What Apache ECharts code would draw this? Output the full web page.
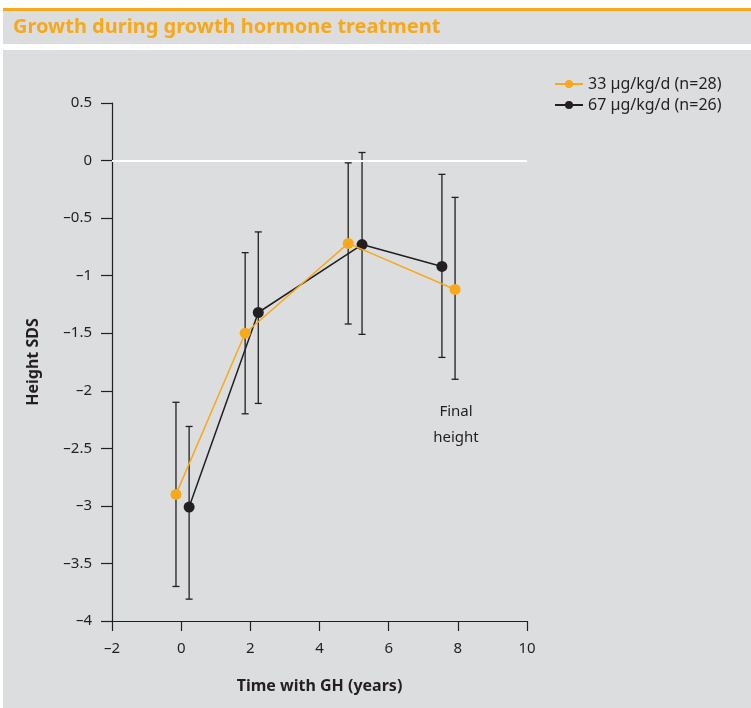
<!DOCTYPE html>
<html>
<head>
<meta charset="utf-8">
<script src="https://cdn.jsdelivr.net/npm/echarts@6/dist/echarts.min.js"></script>
<style>
  html, body { margin: 0; padding: 0; background: #ffffff; }
  #chart { width: 751px; height: 708px; }
</style>
</head>
<body>
<div id="chart"></div>
<script>
// 数据
var seriesNames = ['33 µg/kg/d (n=28)', '67 µg/kg/d (n=26)'];
var lowDoseX = [-0.15, 1.85, 4.83, 7.92];
var lowDoseMean = [-2.9, -1.5, -0.72, -1.12];
var lowDoseLow = [-3.7, -2.2, -1.42, -1.9];
var lowDoseHigh = [-2.1, -0.8, -0.02, -0.32];
var highDoseX = [0.23, 2.23, 5.23, 7.54];
var highDoseMean = [-3.01, -1.32, -0.73, -0.92];
var highDoseLow = [-3.81, -2.11, -1.51, -1.71];
var highDoseHigh = [-2.31, -0.62, 0.07, -0.12];

var orange = '#f7a81b';
var dark = '#231f20';
var panelGray = '#dcdddf';

var myChart = echarts.init(document.getElementById('chart'));

function pairs(xs, ys) {
    var out = [];
    for (var i = 0; i < xs.length; i++) out.push([xs[i], ys[i]]);
    return out;
}
function triples(xs, lo, hi) {
    var out = [];
    for (var i = 0; i < xs.length; i++) out.push([xs[i], lo[i], hi[i]]);
    return out;
}

// 误差线
function renderErrorBar(params, api) {
    var x = api.value(0);
    var top = api.coord([x, api.value(2)]);
    var bottom = api.coord([x, api.value(1)]);
    var half = 3.5;
    var style = { stroke: dark, lineWidth: 1.3 };
    return {
        type: 'group',
        children: [
            { type: 'line', shape: { x1: top[0], y1: top[1], x2: bottom[0], y2: bottom[1] }, style: style },
            { type: 'line', shape: { x1: top[0] - half, y1: top[1], x2: top[0] + half, y2: top[1] }, style: style },
            { type: 'line', shape: { x1: bottom[0] - half, y1: bottom[1], x2: bottom[0] + half, y2: bottom[1] }, style: style }
        ]
    };
}

function minusFmt(v) {
    return String(v).replace('-', '\u2013');
}

var font = '"Noto Sans", sans-serif';

myChart.setOption({
    animation: false,
    backgroundColor: '#ffffff',
    graphic: [
        { type: 'rect', left: 3, top: 8, shape: { width: 748, height: 3 }, style: { fill: orange }, z: -10 },
        { type: 'rect', left: 3, top: 11, shape: { width: 748, height: 33 }, style: { fill: panelGray }, z: -10 },
        { type: 'rect', left: 3, top: 50, shape: { width: 748, height: 658 }, style: { fill: panelGray }, z: -10 },
        { type: 'text', left: 13, top: 17, style: { text: 'Growth during growth hormone treatment', fill: orange, font: 'bold 20px ' + font } },
        { type: 'text', x: 456, y: 399, style: { text: 'Final\nheight', fill: dark, font: '15px ' + font, align: 'center', verticalAlign: 'top', lineHeight: 26 } }
    ],
    legend: {
        orient: 'vertical',
        left: 549,
        top: 71,
        itemWidth: 28,
        itemHeight: 10,
        itemGap: 5,
        textStyle: { color: dark, fontSize: 16, fontFamily: font },
        data: seriesNames
    },
    grid: { left: 112, right: 224, top: 103, bottom: 87 },
    xAxis: {
        type: 'value',
        min: -2,
        max: 10,
        interval: 2,
        name: 'Time with GH (years)',
        nameLocation: 'middle',
        nameGap: 57,
        nameTextStyle: { color: dark, fontSize: 16, fontWeight: 'bold', fontFamily: font },
        axisLine: { onZero: false, lineStyle: { color: dark, width: 1.2 } },
        axisTick: { show: true, length: 10, lineStyle: { color: dark, width: 1.2 } },
        axisLabel: { color: dark, fontSize: 15, fontFamily: font, margin: 20, formatter: minusFmt },
        splitLine: { show: false }
    },
    yAxis: {
        type: 'value',
        min: -4,
        max: 0.5,
        interval: 0.5,
        name: 'Height SDS',
        nameLocation: 'middle',
        nameRotate: 90,
        nameGap: 71,
        nameTextStyle: { color: dark, fontSize: 16, fontWeight: 'bold', fontFamily: font },
        axisLine: { show: true, onZero: false, lineStyle: { color: dark, width: 1.2 } },
        axisTick: { show: true, length: 11, lineStyle: { color: dark, width: 1.2 } },
        axisLabel: { color: dark, fontSize: 15, fontFamily: font, margin: 20, formatter: minusFmt },
        splitLine: { show: false }
    },
    series: [
        {
            name: 'errLow',
            type: 'custom',
            renderItem: renderErrorBar,
            data: triples(lowDoseX, lowDoseLow, lowDoseHigh),
            z: 1,
            silent: true,
            markLine: {
                silent: true,
                symbol: 'none',
                label: { show: false },
                lineStyle: { color: '#ffffff', width: 2, type: 'solid' },
                data: [{ yAxis: 0 }]
            }
        },
        {
            name: 'errHigh',
            type: 'custom',
            renderItem: renderErrorBar,
            data: triples(highDoseX, highDoseLow, highDoseHigh),
            z: 1,
            silent: true
        },
        {
            name: seriesNames[0],
            type: 'line',
            data: pairs(lowDoseX, lowDoseMean),
            symbol: 'circle',
            symbolSize: 11,
            color: orange,
            lineStyle: { color: orange, width: 1.5 },
            itemStyle: { color: orange },
            z: 3
        },
        {
            name: seriesNames[1],
            type: 'line',
            data: pairs(highDoseX, highDoseMean),
            symbol: 'circle',
            symbolSize: 11,
            color: dark,
            lineStyle: { color: dark, width: 1.5 },
            itemStyle: { color: dark },
            z: 2
        }
    ]
});
</script>
</body>
</html>
